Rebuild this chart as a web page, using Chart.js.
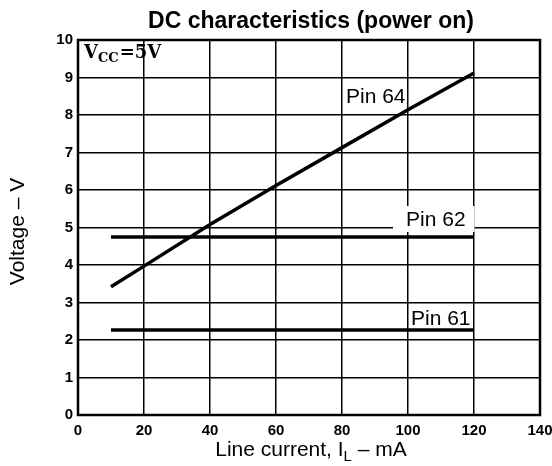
<!DOCTYPE html>
<html>
<head>
<meta charset="utf-8">
<script src="https://cdn.jsdelivr.net/npm/chart.js@4.4.1/dist/chart.umd.min.js"></script>
<style>
  html, body { margin: 0; padding: 0; background: #fff; }
  #wrap { width: 552px; height: 466px; }
</style>
</head>
<body>
<div id="wrap"><canvas id="c" width="552" height="466"></canvas></div>
<script>
// ---- data ----
const pin64Current = [10, 20, 40, 60, 80, 100, 120];
const pin64Voltage = [3.42, 3.97, 5.08, 6.12, 7.13, 8.14, 9.12];
const flatCurrent = [10, 120];
const pin62Voltage = [4.75, 4.75];
const pin61Voltage = [2.27, 2.27];
const xTicks = [0, 20, 40, 60, 80, 100, 120, 140];
const yTicks = [0, 1, 2, 3, 4, 5, 6, 7, 8, 9, 10];
const titleText = 'DC characteristics (power on)';
const yTitle = 'Voltage – V';
const xTitleParts = ['Line current, I', 'L', ' – mA'];
const labels = ['Pin 64', 'Pin 62', 'Pin 61'];

const toPts = (xs, ys) => xs.map((x, i) => ({ x: x, y: ys[i] }));

const lineStyle = { borderColor: '#000', borderWidth: 3.5, pointRadius: 0, fill: false, tension: 0 };

const annotations = [
  { text: labels[0], x: 81.2, y: 8.48, box: false },
  { text: labels[1], x: 99.4, y: 5.2, box: true },
  { text: labels[2], x: 100.9, y: 2.56, box: false }
];

const SANS = '"Liberation Sans", Arial, sans-serif';

const decor = {
  id: 'decor',
  beforeDatasetsDraw(chart) {
    const { ctx, chartArea: a, scales: { x, y } } = chart;
    ctx.save();
    ctx.strokeStyle = '#000';
    ctx.lineWidth = 2.5;
    ctx.strokeRect(a.left, a.top, a.right - a.left, a.bottom - a.top);
    ctx.font = '21px ' + SANS;
    annotations.forEach(an => {
      if (!an.box) return;
      const w = ctx.measureText(an.text).width;
      const px = x.getPixelForValue(an.x), py = y.getPixelForValue(an.y);
      ctx.fillStyle = '#fff';
      ctx.fillRect(px - 13, py - 14, w + 22, 26);
    });
    ctx.restore();
  },
  afterDatasetsDraw(chart) {
    const { ctx, chartArea: a, scales: { x, y } } = chart;
    ctx.save();
    ctx.fillStyle = '#000';
    ctx.font = 'bold 23px ' + SANS;
    ctx.textAlign = 'center';
    ctx.textBaseline = 'middle';
    ctx.fillText(titleText, 311, 22);
    ctx.save();
    ctx.translate(18, (a.top + a.bottom) / 2 + 4);
    ctx.rotate(-Math.PI / 2);
    ctx.font = '21px ' + SANS;
    ctx.fillText(yTitle, 0, 0);
    ctx.restore();
    ctx.textAlign = 'left';
    ctx.textBaseline = 'alphabetic';
    const big = '21px ' + SANS, small = '15px ' + SANS;
    ctx.font = big; const w0 = ctx.measureText(xTitleParts[0]).width;
    ctx.font = small; const w1 = ctx.measureText(xTitleParts[1]).width;
    ctx.font = big; const w2 = ctx.measureText(xTitleParts[2]).width;
    let sx = (a.left + a.right) / 2 - (w0 + w1 + w2) / 2 + 2;
    const base = 456;
    ctx.font = big; ctx.fillText(xTitleParts[0], sx, base); sx += w0;
    ctx.font = small; ctx.fillText(xTitleParts[1], sx, base + 5); sx += w1;
    ctx.font = big; ctx.fillText(xTitleParts[2], sx, base);
    const serif = '"DejaVu Serif", "Liberation Serif", serif';
    let vx = a.left + 6; const vb = 58;
    ctx.font = 'bold 18px ' + serif; ctx.fillText('V', vx, vb); vx += ctx.measureText('V').width;
    ctx.font = 'bold 13px ' + serif; ctx.fillText('CC', vx, vb + 4); vx += ctx.measureText('CC').width + 1;
    ctx.font = 'bold 18px ' + serif; ctx.fillText('=5V', vx, vb);
    ctx.font = '21px ' + SANS;
    ctx.textBaseline = 'middle';
    annotations.forEach(an => {
      ctx.fillText(an.text, x.getPixelForValue(an.x), y.getPixelForValue(an.y));
    });
    ctx.restore();
  }
};

new Chart(document.getElementById('c'), {
  type: 'line',
  data: {
    datasets: [
      Object.assign({ label: labels[0], data: toPts(pin64Current, pin64Voltage) }, lineStyle),
      Object.assign({ label: labels[1], data: toPts(flatCurrent, pin62Voltage) }, lineStyle),
      Object.assign({ label: labels[2], data: toPts(flatCurrent, pin61Voltage) }, lineStyle)
    ]
  },
  options: {
    responsive: false,
    animation: false,
    devicePixelRatio: 1,
    layout: { padding: { top: 40, right: 0, left: 0, bottom: 0 } },
    plugins: { legend: { display: false }, title: { display: false }, tooltip: { enabled: false } },
    scales: {
      x: {
        type: 'linear', min: 0, max: 140,
        afterBuildTicks(s) { s.ticks = xTicks.map(v => ({ value: v })); },
        afterFit(s) { s.height = 51; s.paddingRight = 12; },
        grid: { color: '#000', lineWidth: 1.5, drawTicks: false },
        border: { display: false },
        ticks: { color: '#000', padding: 7, maxRotation: 0, font: { family: SANS, size: 15, weight: 'bold' } }
      },
      y: {
        type: 'linear', min: 0, max: 10,
        afterBuildTicks(s) { s.ticks = yTicks.map(v => ({ value: v })); },
        afterFit(s) { s.width = 78; },
        grid: { color: '#000', lineWidth: 1.5, drawTicks: false },
        border: { display: false },
        ticks: { color: '#000', padding: 5, font: { family: SANS, size: 15, weight: 'bold' } }
      }
    }
  },
  plugins: [decor]
});
</script>
</body>
</html>
